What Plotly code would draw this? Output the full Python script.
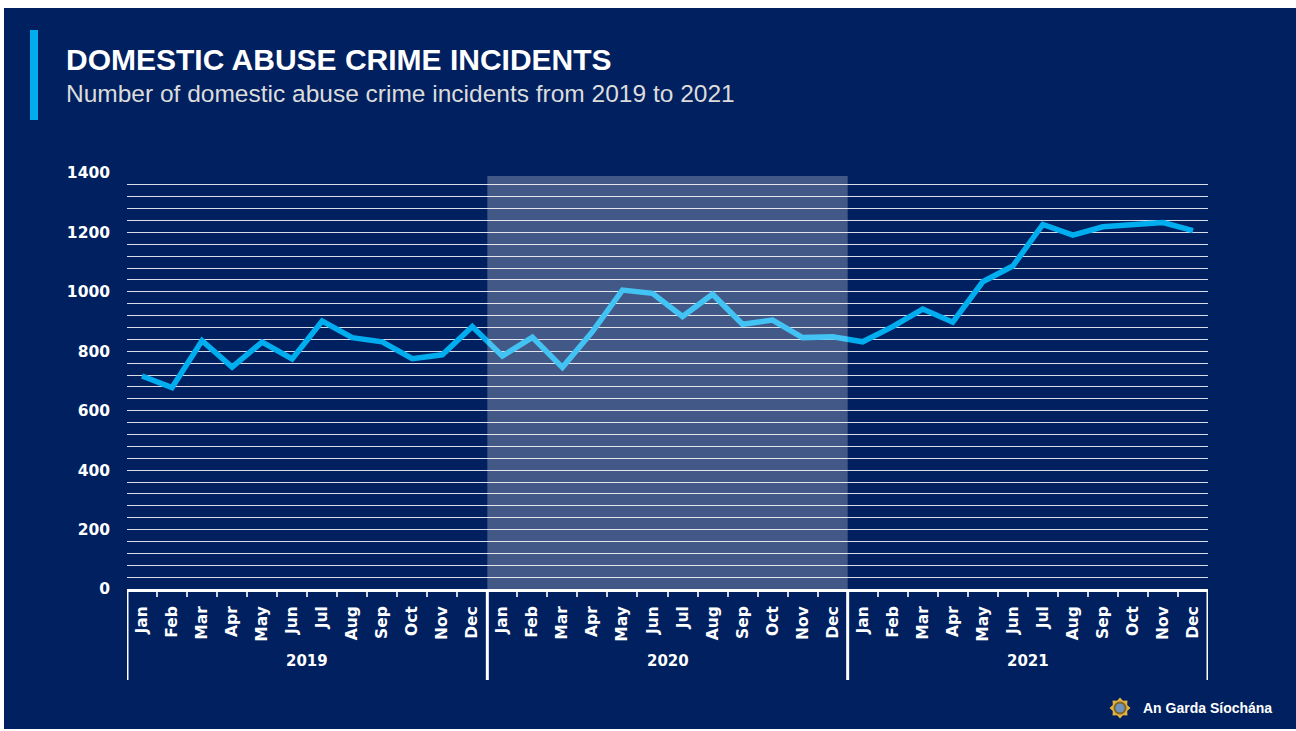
import math
import plotly.graph_objects as go

# Monthly domestic abuse crime incidents
years = ["2019", "2020", "2021"]
months = ["Jan", "Feb", "Mar", "Apr", "May", "Jun",
          "Jul", "Aug", "Sep", "Oct", "Nov", "Dec"]
incidents_2019 = [717, 678, 836, 747, 831, 774, 902, 846, 832, 775, 788, 883]
incidents_2020 = [784, 847, 746, 866, 1006, 995, 917, 992, 891, 905, 846, 849]
incidents_2021 = [832, 883, 942, 898, 1034, 1087, 1227, 1191, 1219, 1227, 1233, 1206]
y_ticks = list(range(0, 1401, 40))
y_labels = [str(v) if v % 200 == 0 else "" for v in y_ticks]
highlight_year = "2020"
highlight_top = 1390

NAVY = "#00205F"
CYAN = "#00AEEF"
W, H = 1296, 731
L, R, T, B = 127, 88, 173, 142
PW, PH = W - L - R, H - T - B


def xp(px):
    return (px - L) / PW


def yp(py):
    return (H - B - py) / PH


values = incidents_2019 + incidents_2020 + incidents_2021
x_idx = list(range(len(values)))
tick_text = months * len(years)
n = len(months)

fig = go.Figure()
fig.add_trace(go.Scatter(
    x=x_idx, y=values, mode="lines",
    line=dict(color=CYAN, width=5.5),
    hoverinfo="skip", showlegend=False,
))

shapes = []
# slide background with a thin white frame
shapes.append(dict(type="rect", xref="paper", yref="paper",
                   x0=xp(4), x1=xp(W + 2), y0=yp(729), y1=yp(8),
                   fillcolor=NAVY, line=dict(width=0), layer="below"))
# accent bar next to the heading
shapes.append(dict(type="rect", xref="paper", yref="paper",
                   x0=xp(30), x1=xp(38), y0=yp(120), y1=yp(30),
                   fillcolor=CYAN, line=dict(width=0), layer="below"))
# shaded year
hi = years.index(highlight_year)
shapes.append(dict(type="rect", xref="x", yref="y",
                   x0=hi * n - 0.5, x1=(hi + 1) * n - 0.5,
                   y0=0, y1=highlight_top,
                   fillcolor="rgba(255,255,255,0.26)", line=dict(width=0),
                   layer="above"))
# year group dividers below the axis
for k in range(len(years) + 1):
    shapes.append(dict(type="line", xref="x", yref="paper",
                       x0=k * n - 0.5, x1=k * n - 0.5,
                       y0=0, y1=yp(680),
                       line=dict(color="white", width=3)))

# badge of the footer logo
bx, by = xp(1120), yp(708)
pts = []
for i in range(16):
    r = 10.5 if i % 2 == 0 else 7.8
    a = math.pi / 2 + i * math.pi / 8
    pts.append((r * math.cos(a), r * math.sin(a)))
path = "M " + " L ".join(f"{x:.2f},{y:.2f}" for x, y in pts) + " Z"
shapes.append(dict(type="path", xref="paper", yref="paper",
                   xsizemode="pixel", ysizemode="pixel",
                   xanchor=bx, yanchor=by, path=path,
                   fillcolor="#E3B43C", line=dict(width=0)))
shapes.append(dict(type="circle", xref="paper", yref="paper",
                   xsizemode="pixel", ysizemode="pixel",
                   xanchor=bx, yanchor=by, x0=-6.5, x1=6.5, y0=-6.5, y1=6.5,
                   fillcolor="#7D6427", line=dict(width=0)))
shapes.append(dict(type="circle", xref="paper", yref="paper",
                   xsizemode="pixel", ysizemode="pixel",
                   xanchor=bx, yanchor=by, x0=-4.5, x1=4.5, y0=-4.5, y1=4.5,
                   fillcolor="#6F93BE", line=dict(width=0)))

annotations = [
    dict(text="DOMESTIC ABUSE CRIME INCIDENTS", xref="paper", yref="paper",
         x=xp(64), y=yp(60), xanchor="left", yanchor="middle", showarrow=False,
         font=dict(family="Liberation Sans", size=30, color="white", weight="bold")),
    dict(text="Number of domestic abuse crime incidents from 2019 to 2021",
         xref="paper", yref="paper", x=xp(64), y=yp(93),
         xanchor="left", yanchor="middle", showarrow=False,
         font=dict(family="Liberation Sans", size=24.5, color="#DCDCDC")),
    dict(text="An Garda Síochána", xref="paper", yref="paper",
         x=xp(1141), y=yp(708), xanchor="left", yanchor="middle", showarrow=False,
         font=dict(family="Liberation Sans", size=14, color="white", weight="bold")),
]
for k, yr in enumerate(years):
    annotations.append(dict(text=yr, xref="x", yref="paper",
                            x=k * n + (n - 1) / 2, y=yp(661),
                            xanchor="center", yanchor="middle", showarrow=False,
                            font=dict(family="DejaVu Sans", size=15,
                                      color="white", weight="bold")))

fig.update_layout(
    width=W, height=H,
    margin=dict(l=L, r=R, t=T, b=B, pad=0),
    paper_bgcolor="white", plot_bgcolor="rgba(0,0,0,0)",
    shapes=shapes, annotations=annotations,
    showlegend=False,
    xaxis=dict(
        range=[-0.5, len(values) - 0.5],
        tickmode="array", tickvals=x_idx, ticktext=tick_text,
        tickangle=-90, ticks="", showgrid=False, zeroline=False,
        showline=True, linecolor="white", linewidth=3,
        ticklabelstandoff=8,
        tickfont=dict(family="DejaVu Sans", size=15.5, color="white", weight="bold"),
        minor=dict(tickmode="array",
                   tickvals=[i + 0.5 for i in range(len(values) - 1)],
                   ticks="outside", ticklen=5, tickwidth=1.5,
                   tickcolor="rgba(255,255,255,0.8)", showgrid=False),
        fixedrange=True,
    ),
    yaxis=dict(
        range=[0, 1400],
        tickmode="array", tickvals=y_ticks, ticktext=y_labels,
        showgrid=True, gridcolor="rgba(255,255,255,0.85)", gridwidth=1,
        zeroline=False, showline=False, ticks="",
        ticklabelstandoff=16,
        tickfont=dict(family="DejaVu Sans", size=15.5, color="white", weight="bold"),
        fixedrange=True,
    ),
)

fig.write_html("out.html", config={"displayModeBar": False})
